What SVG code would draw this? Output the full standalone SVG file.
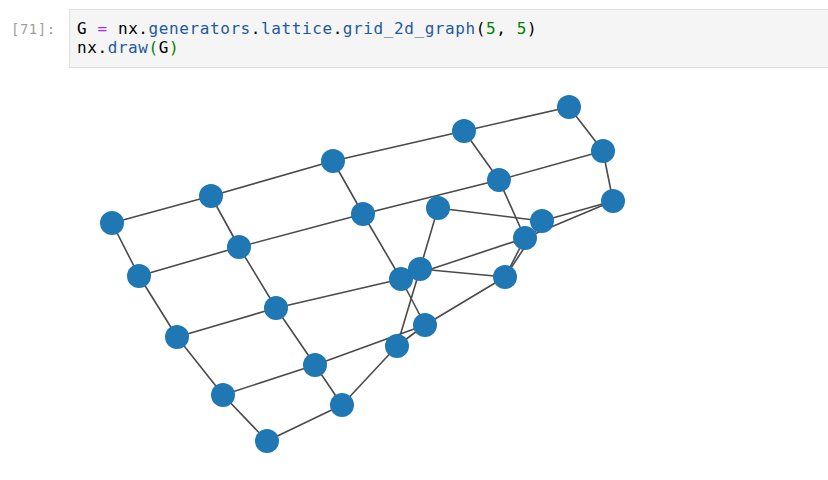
<svg xmlns="http://www.w3.org/2000/svg" width="828" height="480" viewBox="0 0 828 480">
<style>
.code{font-family:"DejaVu Sans Mono","Liberation Mono",monospace;font-size:16px;letter-spacing:0.59px;fill:#000}
.prompt{font-family:"DejaVu Sans Mono","Liberation Mono",monospace;font-size:14px;fill:#9e9e9e;letter-spacing:0.5px}
.kw{fill:#aa22ff}
.at{fill:#1e5aa0}
.nm{fill:#008000}
.e{stroke:#4a4a4a;stroke-width:1.6;fill:none}
.n{fill:#1f77b4}
</style>
<rect width="828" height="480" fill="#ffffff"/>
<g id="cell">
<rect x="69.5" y="9.5" width="770" height="58" fill="#f5f5f5" stroke="#e0e0e0" stroke-width="1"/>
<text class="prompt" x="11" y="34">[71]:</text>
<text class="code" x="77" y="34">G <tspan class="kw">=</tspan> nx.<tspan class="at">generators</tspan>.<tspan class="at">lattice</tspan>.<tspan class="at">grid_2d_graph</tspan>(<tspan class="nm">5</tspan>, <tspan class="nm">5</tspan>)</text>
<text class="code" x="77" y="53">nx.<tspan class="at">draw</tspan><tspan class="nm">(</tspan>G<tspan class="nm">)</tspan></text>
</g>
<g id="edges">
<path class="e" d="M112,223L211,196M211,196L333,161M333,161L464,131M464,131L569,107"/>
<path class="e" d="M139,276L239,247M239,247L363,214M363,214L499,180M499,180L603,151"/>
<path class="e" d="M177,337L276,308M276,308L401,279M401,279L525,238M525,238L613,201"/>
<path class="e" d="M223,395L315,365M315,365L425,325M425,325L505,277M505,277L542,221"/>
<path class="e" d="M267,441L342,405M342,405L397,346M397,346L420,269M420,269L438,208"/>
<path class="e" d="M112,223L139,276M139,276L177,337M177,337L223,395M223,395L267,441"/>
<path class="e" d="M211,196L239,247M239,247L276,308M276,308L315,365M315,365L342,405"/>
<path class="e" d="M333,161L363,214M363,214L401,279M401,279L425,325M425,325L397,346"/>
<path class="e" d="M464,131L499,180M499,180L525,238M525,238L505,277M505,277L420,269"/>
<path class="e" d="M569,107L603,151M603,151L613,201M613,201L542,221M542,221L438,208"/>
</g>
<g id="n00"><circle class="n" cx="112" cy="223" r="12"/></g>
<g id="n01"><circle class="n" cx="211" cy="196" r="12"/></g>
<g id="n02"><circle class="n" cx="333" cy="161" r="12"/></g>
<g id="n03"><circle class="n" cx="464" cy="131" r="12"/></g>
<g id="n04"><circle class="n" cx="569" cy="107" r="12"/></g>
<g id="n10"><circle class="n" cx="139" cy="276" r="12"/></g>
<g id="n11"><circle class="n" cx="239" cy="247" r="12"/></g>
<g id="n12"><circle class="n" cx="363" cy="214" r="12"/></g>
<g id="n13"><circle class="n" cx="499" cy="180" r="12"/></g>
<g id="n14"><circle class="n" cx="603" cy="151" r="12"/></g>
<g id="n20"><circle class="n" cx="177" cy="337" r="12"/></g>
<g id="n21"><circle class="n" cx="276" cy="308" r="12"/></g>
<g id="n22"><circle class="n" cx="401" cy="279" r="12"/></g>
<g id="n23"><circle class="n" cx="525" cy="238" r="12"/></g>
<g id="n24"><circle class="n" cx="613" cy="201" r="12"/></g>
<g id="n30"><circle class="n" cx="223" cy="395" r="12"/></g>
<g id="n31"><circle class="n" cx="315" cy="365" r="12"/></g>
<g id="n32"><circle class="n" cx="425" cy="325" r="12"/></g>
<g id="n33"><circle class="n" cx="505" cy="277" r="12"/></g>
<g id="n34"><circle class="n" cx="542" cy="221" r="12"/></g>
<g id="n40"><circle class="n" cx="267" cy="441" r="12"/></g>
<g id="n41"><circle class="n" cx="342" cy="405" r="12"/></g>
<g id="n42"><circle class="n" cx="397" cy="346" r="12"/></g>
<g id="n43"><circle class="n" cx="420" cy="269" r="12"/></g>
<g id="n44"><circle class="n" cx="438" cy="208" r="12"/></g>
</svg>
